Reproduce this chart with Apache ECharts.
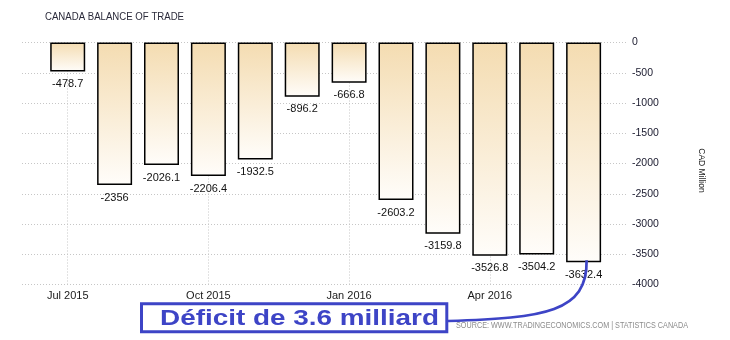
<!DOCTYPE html>
<html>
<head>
<meta charset="utf-8">
<script src="https://cdn.jsdelivr.net/npm/echarts@6/dist/echarts.min.js"></script>
<style>
html,body{margin:0;padding:0;background:#fff;}
#c{width:730px;height:340px;}
</style>
</head>
<body>
<div id="c"></div>
<script>
var categories = ['Jul 2015','Aug 2015','Sep 2015','Oct 2015','Nov 2015','Dec 2015','Jan 2016','Feb 2016','Mar 2016','Apr 2016','May 2016','Jun 2016'];
var balance = [-478.7, -2356, -2026.1, -2206.4, -1932.5, -896.2, -666.8, -2603.2, -3159.8, -3526.8, -3504.2, -3632.4];
var gridMonths = ['Jul 2015', 'Oct 2015', 'Jan 2016', 'Apr 2016'];
var yTicks = {min: -4000, max: 0, interval: 500};
var titleText = 'CANADA BALANCE OF TRADE';
var unitText = 'CAD Million';
var sourceText = 'SOURCE: WWW.TRADINGECONOMICS.COM | STATISTICS CANADA';
var noteText = 'Déficit de 3.6 milliard';

function fitScale(text, font, target) {
  var cv = document.createElement('canvas').getContext('2d');
  cv.font = font;
  var w = cv.measureText(text).width;
  return w > 0 ? target / w : 1;
}

var chart = echarts.init(document.getElementById('c'), null, {renderer: 'canvas'});
var gridTop = 42.5, gridBottom = 55.5;
var dotted = {color: '#c6c6c6', width: 1, type: [1, 2]};
var option = {
  animation: false,
  backgroundColor: '#ffffff',
  grid: [
    {left: 22, right: 103, top: gridTop, bottom: gridBottom},
    {left: 44.25, right: 122.95, top: gridTop, bottom: gridBottom}
  ],
  xAxis: [
    {gridIndex: 0, type: 'value', min: 0, max: 1, show: false},
    {gridIndex: 1, type: 'category', data: categories, boundaryGap: true,
      axisLine: {show: false},
      axisTick: {show: true, alignWithLabel: true, interval: 2, length: 4, lineStyle: {color: '#c6c6c6'}},
      axisLabel: {interval: 2, margin: 6, color: '#1a1a1a', fontSize: 11, fontFamily: 'Liberation Sans, Arial, sans-serif'},
      splitLine: {show: false}
    }
  ],
  yAxis: [
    {gridIndex: 0, type: 'value', position: 'right', min: yTicks.min, max: yTicks.max, interval: yTicks.interval,
      axisLine: {show: false}, axisTick: {show: false},
      axisLabel: {margin: 5, color: '#1a1a2e', fontSize: 10.5, fontFamily: 'Liberation Sans, Arial, sans-serif',
        formatter: function (v) { return String(v); }},
      splitLine: {show: true, lineStyle: dotted}
    },
    {gridIndex: 1, type: 'value', min: yTicks.min, max: yTicks.max, interval: yTicks.interval, show: false}
  ],
  series: [{
    type: 'line',
    xAxisIndex: 1, yAxisIndex: 1,
    data: [],
    z: 1,
    silent: true,
    markLine: {
      z: 1,
      silent: true,
      symbol: ['none', 'none'],
      label: {show: false},
      lineStyle: dotted,
      data: gridMonths.map(function (m) { return {xAxis: m}; })
    }
  }, {
    type: 'bar',
    xAxisIndex: 1, yAxisIndex: 1,
    data: balance,
    barWidth: 35,
    z: 3,
    itemStyle: {
      color: new echarts.graphic.LinearGradient(0, 0, 0, 1, [
        {offset: 0, color: '#f4dcb1'},
        {offset: 1, color: '#fffdfa'}
      ]),
      borderColor: '#000000',
      borderWidth: 1.5
    },
    label: {
      show: true, position: 'bottom', distance: 7,
      color: '#111111', fontSize: 11, fontFamily: 'Liberation Sans, Arial, sans-serif',
      formatter: function (p) { return String(p.value); }
    }
  }]
};
chart.setOption(option);

var lastIdx = balance.length - 1;
var endPt = chart.convertToPixel({xAxisIndex: 1, yAxisIndex: 1}, [categories[lastIdx], balance[lastIdx]]);
var ex = endPt[0] + 3, ey = endPt[1] - 2;
var blue = '#3d44c6';
var titleFont = '10px "Liberation Sans", Arial, sans-serif';
var srcFont = '8.5px "Liberation Sans", Arial, sans-serif';
var noteFont = 'bold 22px "Liberation Sans", Arial, sans-serif';
chart.setOption({
  graphic: [
    {type: 'text', x: 45, y: 17.7, scaleX: fitScale(titleText, titleFont, 139), z: 10,
      style: {text: titleText, font: titleFont, fill: '#2a2a3a', verticalAlign: 'middle', textVerticalAlign: 'middle'}},
    {type: 'text', x: 701.7, y: 170.5, rotation: -Math.PI / 2, z: 10,
      style: {text: unitText, font: '8.5px "Liberation Sans", Arial, sans-serif', fill: '#222', align: 'center', verticalAlign: 'middle', textAlign: 'center', textVerticalAlign: 'middle'}},
    {type: 'text', x: 456, y: 326, scaleX: fitScale(sourceText, srcFont, 232), z: 10,
      style: {text: sourceText, font: srcFont, fill: '#8c8c8c', verticalAlign: 'middle', textVerticalAlign: 'middle'}},
    {type: 'rect', z: 20,
      shape: {x: 141.5, y: 303.8, width: 305.3, height: 28},
      style: {fill: '#ffffff', stroke: blue, lineWidth: 3}},
    {type: 'text', x: 160, y: 319, scaleX: fitScale(noteText, noteFont, 279), z: 21,
      style: {text: noteText, font: noteFont, fill: blue, verticalAlign: 'middle', textVerticalAlign: 'middle'}},
    {type: 'bezierCurve', z: 20,
      shape: {x1: 448, y1: 321, cpx1: 545, cpy1: 318, cpx2: ex + 1, cpy2: 312, x2: ex, y2: ey},
      style: {stroke: blue, lineWidth: 2.7, fill: null}}
  ]
});
</script>
</body>
</html>
